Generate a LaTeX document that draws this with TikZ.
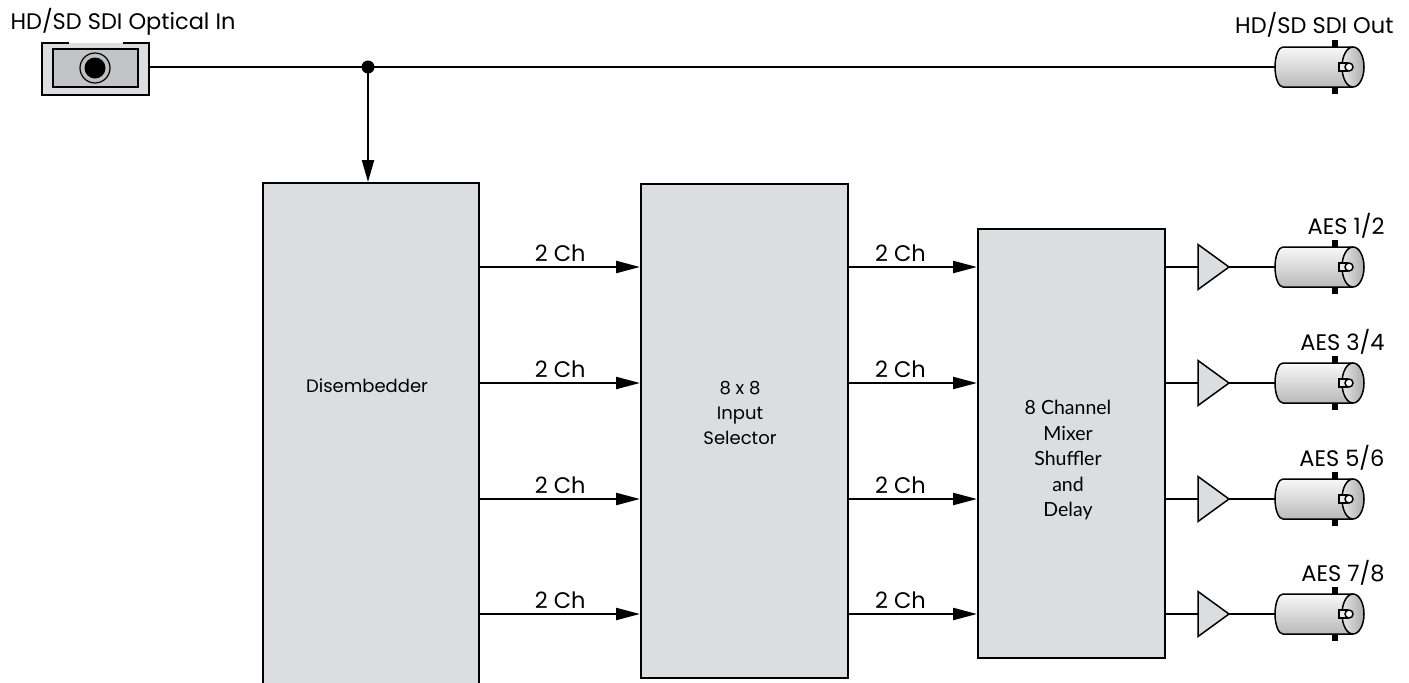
\documentclass[tikz,border=0pt]{standalone}
\usepackage{fontspec}
\setmainfont{Poppins}
\newfontfamily\mixfont{Lato}
\usetikzlibrary{arrows.meta,positioning}

\definecolor{boxgray}{HTML}{DCDDDF}
\definecolor{portgray}{HTML}{C3C4C6}

\tikzset{
  block/.style={draw, fill=boxgray, line width=2.4pt, anchor=north west, inner sep=0pt},
  blocktext/.style={align=center, font=\fontsize{18}{25}\selectfont},
  sig/.style={line width=2.2pt},
  flow/.style={sig, -{Triangle[length=24pt,width=12pt]}},
  chlabel/.style={above=1pt, font=\fontsize{22.5}{26}\selectfont},
  portlabel/.style={anchor=base east, font=\fontsize{22.5}{26}\selectfont},
  bnc/.pic={
    \fill (57,19) rectangle (63,27);
    \fill (57,-19) rectangle (63,-27);
    \draw[line width=1.5pt, top color=gray!5, bottom color=gray!55]
      (78,20) -- (8,20) arc[start angle=90, end angle=270, x radius=8, y radius=20] -- (78,-20);
    \draw[line width=1.5pt, left color=gray!20, right color=gray!65] (78,0) ellipse[x radius=11, y radius=20];
    \draw[line width=1.5pt, fill=gray!15] (64,-4) rectangle (72,4);
    \draw[line width=1.5pt, fill=white] (74,0) circle[radius=4];
  }
}

\begin{document}
\begin{tikzpicture}[x=1pt, y=1pt]
  \useasboundingbox (0,0) rectangle (1409,-683);

  % optical input port
  \fill[boxgray] (42,-43) rectangle (149,-95);
  \draw[line width=1.8pt] (69,-43) -- (42,-43) -- (42,-95) -- (149,-95) -- (149,-43) -- (123,-43);
  \draw[line width=1.8pt, fill=portgray] (53,-49) rectangle (138,-87);
  \draw[line width=1.2pt, fill=gray!50] (95,-68) circle[radius=15];
  \fill (95,-68) circle[radius=10.5];
  \coordinate (optin) at (149,-67);
  \node[anchor=base west, font=\fontsize{22.5}{26}\selectfont] (optlabel) at (7,-29) {HD/SD SDI Optical In};

  % processing blocks
  \node[block, minimum width=216pt, minimum height=520pt] (dis) at (262,-182) {};
  \node[block, minimum width=207pt, minimum height=494pt] (sel) at (640,-183) {};
  \node[block, minimum width=187pt, minimum height=429pt] (mix) at (977,-228) {};
  \node[blocktext] (distext) at (367,-386) {Disembedder};
  \node[blocktext] (seltext) at (740,-413) {8 x 8\\Input\\Selector};
  \node[blocktext, font=\mixfont\fontsize{19.5}{25.5}\selectfont] (mixtext) at (1068,-460) {8 Channel\\Mixer\\Shuffler\\and\\Delay};

  % SDI loop through
  \coordinate (sdiout) at (1275,-67);
  \coordinate (tap) at (368,-67);
  \draw[sig] (optin) -- (sdiout);
  \fill (tap) circle[radius=6.5];
  \draw[sig, -{Triangle[length=22pt,width=12pt]}] (tap) -- (tap |- dis.north);
  \pic at (sdiout) {bnc};
  \node[portlabel] (outlabel) at (1397,-33) {HD/SD SDI Out};

  % audio channels
  \foreach \y [count=\i] in {267,383,499,614} {
    \coordinate (row\i) at (0,-\y);
    \draw[flow] (dis.east |- row\i) -- node[chlabel] (dch\i) {2 Ch} (sel.west |- row\i);
    \draw[flow] (sel.east |- row\i) -- node[chlabel, pos=0.4] (sch\i) {2 Ch} (mix.west |- row\i);
    \coordinate (ampin\i) at (1198,-\y);
    \coordinate (ampout\i) at (1229,-\y);
    \coordinate (aes\i) at (1275,-\y);
    \draw[sig] (mix.east |- row\i) -- (ampin\i);
    \draw[line width=1.5pt, fill=boxgray] (1198,-\y+22.5) -- (ampout\i) -- (1198,-\y-22.5) -- cycle;
    \draw[sig] (ampout\i) -- (aes\i);
    \pic at (aes\i) {bnc};
    \pgfmathtruncatemacro{\chA}{2*\i-1}
    \pgfmathtruncatemacro{\chB}{2*\i}
    \node[portlabel] (aeslabel\i) at (1388,-\y+33) {AES \chA/\chB};
  }
\end{tikzpicture}
\end{document}
